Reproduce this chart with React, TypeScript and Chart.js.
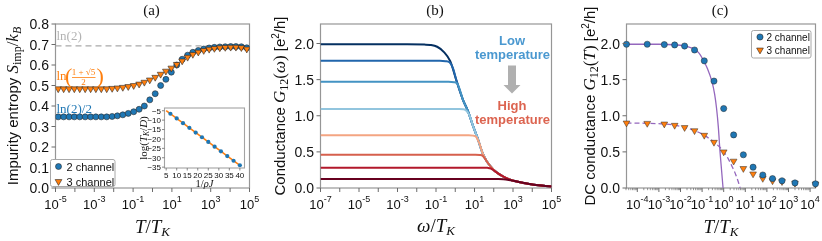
import { useEffect, useRef } from 'react';
import { Chart, registerables } from 'chart.js';

Chart.register(...registerables);

const W = 822;
const H = 241;
const SANS = '"Liberation Sans", Arial, Helvetica, sans-serif';
const SERIF = '"Liberation Serif", "Times New Roman", serif';
const BLUE = '#1f77b4';
const ORANGE = '#ff7f0e';
const PURPLE = '#9467bd';
const FRAME = '#969696';
const TICK = '#6b6b6b';
const INK = '#111111';

// ---------------- (a) impurity entropy ----------------
const entropyLogT = [-4.86, -4.58, -4.3, -4.03, -3.75, -3.47, -3.19, -2.92, -2.64, -2.36, -2.08, -1.81, -1.53, -1.25, -0.97, -0.69, -0.42, -0.14, 0.14, 0.42, 0.69, 0.97, 1.25, 1.53, 1.81, 2.08, 2.36, 2.64, 2.92, 3.19, 3.47, 3.75, 4.03, 4.3, 4.58, 4.86];
const entropyTwoChannel = [0.347, 0.347, 0.347, 0.347, 0.347, 0.347, 0.347, 0.347, 0.347, 0.347, 0.349, 0.352, 0.357, 0.364, 0.372, 0.384, 0.4, 0.43, 0.46, 0.5, 0.53, 0.565, 0.6, 0.628, 0.648, 0.662, 0.671, 0.678, 0.683, 0.686, 0.688, 0.689, 0.69, 0.69, 0.689, 0.684];
const entropyThreeChannel = [0.484, 0.484, 0.484, 0.484, 0.484, 0.484, 0.484, 0.484, 0.484, 0.484, 0.486, 0.488, 0.491, 0.495, 0.5, 0.507, 0.516, 0.527, 0.54, 0.555, 0.57, 0.585, 0.603, 0.62, 0.638, 0.652, 0.663, 0.671, 0.677, 0.681, 0.684, 0.686, 0.687, 0.687, 0.685, 0.678];
const ln2LineLogT = [-5, 5];
const ln2LineValue = [0.693, 0.693];
const entropyYTicks = [0, 0.1, 0.2, 0.3, 0.4, 0.5, 0.6, 0.7, 0.8];
const entropyXDecades = [-5, -4, -3, -2, -1, 0, 1, 2, 3, 4, 5];
const entropyXLabelExps = [-5, -3, -1, 1, 3, 5];

// ---------------- inset ----------------
const insetInvRhoJ = [7, 10, 13, 16, 19, 22, 25, 28, 31, 34, 37, 40];
const insetLogTK = [-6.6, -9.1, -11.6, -14.1, -16.6, -19.1, -21.6, -24.1, -26.6, -29.1, -31.6, -34.0];
const insetFitInvRhoJ = [5, 40];
const insetFitLogTK = [-5, -34];
const insetXTicks = [5, 10, 15, 20, 25, 30, 35, 40];
const insetYTicks = [-5, -10, -15, -20, -25, -30, -35];

// ---------------- (b) G12(omega) ----------------
const omegaExp1 = [-7, -2.5, -1.6, -1.3, -0.94, -0.6, -0.26, 0.07, 0.4, 0.66, 0.91, 1.16, 1.41, 1.66, 2.0, 2.41, 2.75, 3.08, 4.08, 5];
const gOmega1 = [1.99, 1.99, 1.985, 1.98, 1.955, 1.885, 1.755, 1.48, 1.22, 1.065, 0.87, 0.69, 0.49, 0.36, 0.25, 0.17, 0.125, 0.098, 0.045, 0.022];
const omegaExp2 = [-7, -0.8, -0.5, -0.3, -0.12, 0.07, 0.4, 0.66, 0.91, 1.16, 1.41, 1.66, 2.0, 2.41, 2.75, 3.08, 4.08, 5];
const gOmega2 = [1.76, 1.76, 1.755, 1.74, 1.66, 1.48, 1.22, 1.065, 0.87, 0.69, 0.49, 0.36, 0.25, 0.17, 0.125, 0.098, 0.045, 0.022];
const omegaExp3 = [-7, -0.35, -0.05, 0.12, 0.25, 0.4, 0.66, 0.91, 1.16, 1.41, 1.66, 2.0, 2.41, 2.75, 3.08, 4.08, 5];
const gOmega3 = [1.47, 1.47, 1.465, 1.44, 1.35, 1.22, 1.065, 0.87, 0.69, 0.49, 0.36, 0.25, 0.17, 0.125, 0.098, 0.045, 0.022];
const omegaExp4 = [-7, 0.2, 0.42, 0.58, 0.75, 0.91, 1.16, 1.41, 1.66, 2.0, 2.41, 2.75, 3.08, 4.08, 5];
const gOmega4 = [1.095, 1.095, 1.09, 1.07, 1.0, 0.87, 0.69, 0.49, 0.36, 0.25, 0.17, 0.125, 0.098, 0.045, 0.022];
const omegaExp5 = [-7, 0.7, 0.93, 1.08, 1.25, 1.41, 1.66, 2.0, 2.41, 2.75, 3.08, 4.08, 5];
const gOmega5 = [0.73, 0.73, 0.725, 0.71, 0.62, 0.49, 0.36, 0.25, 0.17, 0.125, 0.098, 0.045, 0.022];
const omegaExp6 = [-7, 1.05, 1.28, 1.43, 1.56, 1.66, 2.0, 2.41, 2.75, 3.08, 4.08, 5];
const gOmega6 = [0.46, 0.46, 0.457, 0.445, 0.4, 0.36, 0.25, 0.17, 0.125, 0.098, 0.045, 0.022];
const omegaExp7 = [-7, 1.45, 1.68, 1.85, 2.0, 2.41, 2.75, 3.08, 4.08, 5];
const gOmega7 = [0.282, 0.282, 0.279, 0.27, 0.245, 0.17, 0.125, 0.098, 0.045, 0.022];
const omegaExp8 = [-7, 2.25, 2.5, 2.78, 3.08, 4.08, 5];
const gOmega8 = [0.125, 0.125, 0.122, 0.112, 0.096, 0.045, 0.022];
const curveColors = ['#053061', '#2166ac', '#4393c3', '#92c5de', '#f4a582', '#d6604d', '#b2182b', '#67001f'];
const condYTicks = [0, 0.5, 1, 1.5, 2];
const omegaDecades = [-7, -6, -5, -4, -3, -2, -1, 0, 1, 2, 3, 4, 5];
const omegaLabelExps = [-7, -5, -3, -1, 1, 3, 5];

// ---------------- (c) DC conductance ----------------
const dcLogT = [-4.5, -3.54, -2.75, -2.27, -1.81, -1.35, -0.9, -0.45, 0.0, 0.46, 0.91, 1.36, 1.81, 2.26, 2.7, 3.3, 4.25];
const dcTwoChannel = [1.99, 1.99, 1.985, 1.98, 1.965, 1.91, 1.76, 1.48, 1.1, 0.735, 0.46, 0.288, 0.18, 0.13, 0.1, 0.07, 0.058];
const dcThreeChannel = [0.9, 0.895, 0.886, 0.868, 0.837, 0.793, 0.73, 0.633, 0.5, 0.372, 0.27, 0.195, 0.133, 0.1, 0.089, 0.066, 0.055];
const fitTwoLogT = [-4.5, -3.0, -2.3, -1.8, -1.5, -1.3, -1.1, -0.93, -0.75, -0.55, -0.42, -0.33, -0.25, -0.17, -0.1, -0.03];
const fitTwoG = [1.99, 1.99, 1.983, 1.965, 1.94, 1.91, 1.85, 1.76, 1.65, 1.48, 1.3, 1.1, 0.85, 0.5, 0.25, 0.0];
const fitThreeLogT = [-4.5, -3.5, -2.75, -2.27, -1.81, -1.35, -0.9, -0.45, -0.2, 0.0, 0.2, 0.4, 0.55, 0.67, 0.76];
const fitThreeG = [0.9, 0.895, 0.886, 0.87, 0.84, 0.795, 0.73, 0.635, 0.57, 0.5, 0.41, 0.29, 0.19, 0.09, 0.0];
const dcDecades = [-4, -3, -2, -1, 0, 1, 2, 3, 4];

// ---------------- layout ----------------
type Area = { left: number; top: number; right: number; bottom: number };
const AREA_A: Area = { left: 47.5, top: 24, right: 249.5, bottom: 196 };
const AREA_INSET: Area = { left: 156.5, top: 108, right: 244.5, bottom: 176 };
const AREA_B: Area = { left: 312.5, top: 24, right: 551.5, bottom: 196 };
const AREA_C: Area = { left: 618.5, top: 24, right: 815.5, bottom: 196 };

type Seg = { t: string; f: string; dy?: number };

function segsWidth(ctx: CanvasRenderingContext2D, segs: Seg[]) {
  let w = 0;
  for (const s of segs) {
    ctx.font = s.f;
    w += ctx.measureText(s.t).width;
  }
  return w;
}

function drawSegs(ctx: CanvasRenderingContext2D, segs: Seg[], x: number, y: number, align: string, color: string, rot = 0) {
  ctx.save();
  ctx.translate(x, y);
  if (rot) ctx.rotate(rot);
  ctx.fillStyle = color;
  ctx.textAlign = 'left';
  ctx.textBaseline = 'alphabetic';
  const w = segsWidth(ctx, segs);
  let cx = align === 'center' ? -w / 2 : align === 'right' ? -w : 0;
  for (const s of segs) {
    ctx.font = s.f;
    ctx.fillText(s.t, cx, s.dy || 0);
    cx += ctx.measureText(s.t).width;
  }
  ctx.restore();
}

function pow10Segs(e: number, base = 13, exp = 9): Seg[] {
  const s = e < 0 ? '-' + Math.abs(e) : String(e);
  return [
    { t: '10', f: `${base}px ${SANS}` },
    { t: s, f: `${exp}px ${SANS}`, dy: -7 },
  ];
}

function xTitleSegs(first: string): Seg[] {
  return [
    { t: first, f: `italic 19px ${SERIF}` },
    { t: '/', f: `19px ${SERIF}` },
    { t: 'T', f: `italic 19px ${SERIF}` },
    { t: 'K', f: `italic 13px ${SERIF}`, dy: 3.5 },
  ];
}

function drawFrame(ctx: CanvasRenderingContext2D, a: Area, color: string, lw: number) {
  ctx.save();
  ctx.strokeStyle = color;
  ctx.lineWidth = lw;
  ctx.strokeRect(a.left, a.top, a.right - a.left, a.bottom - a.top);
  ctx.restore();
}

function xTickMarks(ctx: CanvasRenderingContext2D, c: any, vals: number[], len: number) {
  const a = c.chartArea;
  const s = c.scales.x;
  ctx.beginPath();
  for (const v of vals) {
    const px = s.getPixelForValue(v);
    if (px < a.left - 0.5 || px > a.right + 0.5) continue;
    ctx.moveTo(px, a.bottom);
    ctx.lineTo(px, a.bottom + len);
  }
  ctx.stroke();
}

function yTickMarks(ctx: CanvasRenderingContext2D, c: any, vals: number[], len: number) {
  const a = c.chartArea;
  const s = c.scales.y;
  ctx.beginPath();
  for (const v of vals) {
    const py = s.getPixelForValue(v);
    ctx.moveTo(a.left - len, py);
    ctx.lineTo(a.left, py);
  }
  ctx.stroke();
}

function marker(ctx: CanvasRenderingContext2D, kind: string, x: number, y: number, r: number, fill: string) {
  ctx.save();
  ctx.fillStyle = fill;
  ctx.strokeStyle = '#2a2a2a';
  ctx.lineWidth = 0.6;
  ctx.beginPath();
  if (kind === 'circle') {
    ctx.arc(x, y, r, 0, Math.PI * 2);
  } else {
    const h = r * Math.sin(Math.PI / 3);
    ctx.moveTo(x, y + r);
    ctx.lineTo(x - h, y - r / 2);
    ctx.lineTo(x + h, y - r / 2);
    ctx.closePath();
  }
  ctx.fill();
  ctx.stroke();
  ctx.restore();
}

function legendBox(ctx: CanvasRenderingContext2D, x: number, y: number, w: number, h: number) {
  ctx.save();
  ctx.fillStyle = '#ffffff';
  ctx.strokeStyle = '#a8a8a8';
  ctx.lineWidth = 1;
  ctx.beginPath();
  (ctx as any).roundRect ? (ctx as any).roundRect(x, y, w, h, 2) : ctx.rect(x, y, w, h);
  ctx.fill();
  ctx.stroke();
  ctx.restore();
}

const logPts = (xs: number[], ys: number[]) => xs.map((x, i) => ({ x: Math.pow(10, x), y: ys[i] }));
const linPts = (xs: number[], ys: number[]) => xs.map((x, i) => ({ x, y: ys[i] }));

function makeChart(canvas: HTMLCanvasElement, area: Area, x: any, y: any, datasets: any[], before: (c: any) => void, after: (c: any) => void) {
  const hidden = { grid: { display: false }, border: { display: false }, ticks: { display: false }, title: { display: false } };
  return new Chart(canvas, {
    type: 'scatter',
    data: { datasets },
    options: {
      responsive: false,
      animation: false,
      devicePixelRatio: 1,
      events: [],
      layout: { padding: { left: area.left, top: area.top, right: W - area.right, bottom: H - area.bottom } },
      plugins: { legend: { display: false }, tooltip: { enabled: false }, title: { display: false } },
      scales: {
        x: { ...x, ...hidden },
        y: { ...y, ...hidden },
      },
    } as any,
    plugins: [
      {
        id: 'decor',
        beforeDatasetsDraw: (c: any) => before(c),
        afterDraw: (c: any) => after(c),
      },
    ],
  });
}

function yTitle(ctx: CanvasRenderingContext2D, segs: Seg[], cx: number, cy: number, fs: number) {
  drawSegs(ctx, segs, cx + fs * 0.36, cy, 'center', INK, -Math.PI / 2);
}

function buildA(canvas: HTMLCanvasElement) {
  const datasets = [
    {
      data: logPts(entropyLogT, entropyThreeChannel),
      pointStyle: 'triangle', rotation: 180, pointRadius: 3.9,
      pointBackgroundColor: ORANGE, pointBorderColor: '#2a2a2a', pointBorderWidth: 0.6, showLine: false,
    },
    {
      data: logPts(entropyLogT, entropyTwoChannel),
      pointStyle: 'circle', pointRadius: 3.0,
      pointBackgroundColor: BLUE, pointBorderColor: '#2a2a2a', pointBorderWidth: 0.6, showLine: false,
    },
    {
      data: logPts(ln2LineLogT, ln2LineValue),
      showLine: true, pointRadius: 0, borderColor: '#a9a9a9', borderWidth: 1.3, borderDash: [6, 4],
    },
  ];
  return makeChart(
    canvas, AREA_A,
    { type: 'logarithmic', min: 1e-5, max: 1e5 },
    { type: 'linear', min: 0, max: 0.8 },
    datasets,
    (c) => drawFrame(c.ctx, c.chartArea, FRAME, 1.2),
    (c) => {
      const ctx = c.ctx;
      const a = c.chartArea;
      const sx = c.scales.x;
      const sy = c.scales.y;
      ctx.save();
      ctx.strokeStyle = TICK;
      ctx.lineWidth = 1;
      xTickMarks(ctx, c, entropyXDecades.map((e) => Math.pow(10, e)), 4);
      yTickMarks(ctx, c, entropyYTicks, 4);
      for (const v of entropyYTicks) {
        drawSegs(ctx, [{ t: v.toFixed(1), f: `14px ${SANS}` }], a.left - 6.5, sy.getPixelForValue(v) + 5, 'right', INK);
      }
      for (const e of entropyXLabelExps) {
        drawSegs(ctx, pow10Segs(e), sx.getPixelForValue(Math.pow(10, e)), a.bottom + 21, 'center', INK);
      }
      const mid = (a.left + a.right) / 2;
      drawSegs(ctx, [{ t: '(a)', f: `15px ${SERIF}` }], mid - 1, 15, 'center', INK);
      drawSegs(ctx, xTitleSegs('T'), mid, 232.5, 'center', INK);
      yTitle(ctx, [
        { t: 'Impurity entropy ', f: `15px ${SANS}` },
        { t: 'S', f: `italic 17px ${SERIF}` },
        { t: 'imp', f: `12px ${SERIF}`, dy: 3 },
        { t: '/', f: `17px ${SERIF}` },
        { t: 'k', f: `italic 17px ${SERIF}` },
        { t: 'B', f: `italic 12px ${SERIF}`, dy: 3 },
      ], 13, (a.top + a.bottom) / 2, 15);
      // annotations
      drawSegs(ctx, [{ t: 'ln(2)', f: `13px ${SERIF}` }], 56.5, 39.5, 'left', '#b3b3b3');
      drawSegs(ctx, [{ t: 'ln', f: `13px ${SERIF}` }], 56.5, 80, 'left', ORANGE);
      drawSegs(ctx, [{ t: '(', f: `22px ${SERIF}` }], 65, 83, 'left', ORANGE);
      drawSegs(ctx, [{ t: '1 + \u221A5', f: `9px ${SERIF}` }], 83.5, 75, 'center', ORANGE);
      ctx.strokeStyle = ORANGE;
      ctx.lineWidth = 0.8;
      ctx.beginPath();
      ctx.moveTo(72, 77.5);
      ctx.lineTo(95.5, 77.5);
      ctx.stroke();
      drawSegs(ctx, [{ t: '2', f: `9px ${SERIF}` }], 83.5, 85, 'center', ORANGE);
      drawSegs(ctx, [{ t: ')', f: `22px ${SERIF}` }], 96.5, 83, 'left', ORANGE);
      drawSegs(ctx, [{ t: 'ln(2)/2', f: `13px ${SERIF}` }], 56.5, 113, 'left', BLUE);
      // legend
      legendBox(ctx, 50.5, 159.5, 64.5, 27);
      marker(ctx, 'circle', 58.5, 166.5, 3.0, BLUE);
      marker(ctx, 'tri', 58.5, 181.5, 3.9, ORANGE);
      drawSegs(ctx, [{ t: '2 channel', f: `11px ${SANS}` }], 66.5, 170.5, 'left', INK);
      drawSegs(ctx, [{ t: '3 channel', f: `11px ${SANS}` }], 66.5, 185.5, 'left', INK);
      ctx.restore();
    },
  );
}

function buildInset(canvas: HTMLCanvasElement) {
  const datasets = [
    {
      data: linPts(insetInvRhoJ, insetLogTK),
      pointStyle: 'circle', pointRadius: 2.1, pointBackgroundColor: BLUE, pointBorderColor: BLUE, pointBorderWidth: 0, showLine: false,
    },
    {
      data: linPts(insetFitInvRhoJ, insetFitLogTK),
      showLine: true, pointRadius: 0, borderColor: ORANGE, borderWidth: 1.6,
    },
  ];
  return makeChart(
    canvas, AREA_INSET,
    { type: 'linear', min: 4.2, max: 42.2 },
    { type: 'linear', min: -35.45, max: -3.55 },
    datasets,
    (c) => {
      const a = c.chartArea;
      c.ctx.save();
      c.ctx.fillStyle = '#ffffff';
      c.ctx.fillRect(a.left, a.top, a.right - a.left, a.bottom - a.top);
      c.ctx.restore();
      drawFrame(c.ctx, a, '#a3a3a3', 1.1);
    },
    (c) => {
      const ctx = c.ctx;
      const a = c.chartArea;
      const sx = c.scales.x;
      const sy = c.scales.y;
      ctx.save();
      ctx.strokeStyle = TICK;
      ctx.lineWidth = 0.8;
      xTickMarks(ctx, c, insetXTicks, 2.5);
      yTickMarks(ctx, c, insetYTicks, 2.5);
      for (const v of insetXTicks) {
        drawSegs(ctx, [{ t: String(v), f: `8px ${SANS}` }], sx.getPixelForValue(v), a.bottom + 10, 'center', INK);
      }
      for (const v of insetYTicks) {
        drawSegs(ctx, [{ t: '\u2212' + Math.abs(v), f: `8px ${SANS}` }], a.left - 3.5, sy.getPixelForValue(v) + 2.9, 'right', INK);
      }
      drawSegs(ctx, [
        { t: '1/', f: `10.5px ${SERIF}` },
        { t: '\u03C1J', f: `italic 10.5px ${SERIF}` },
      ], (a.left + a.right) / 2, a.bottom + 19, 'center', INK);
      yTitle(ctx, [
        { t: 'log(', f: `11px ${SERIF}` },
        { t: 'T', f: `italic 11px ${SERIF}` },
        { t: 'K', f: `italic 7.5px ${SERIF}`, dy: 2 },
        { t: '/', f: `11px ${SERIF}` },
        { t: 'D', f: `italic 11px ${SERIF}` },
        { t: ')', f: `11px ${SERIF}` },
      ], a.left - 21, (a.top + a.bottom) / 2, 11);
      ctx.restore();
    },
  );
}

function buildB(canvas: HTMLCanvasElement) {
  const xs = [omegaExp1, omegaExp2, omegaExp3, omegaExp4, omegaExp5, omegaExp6, omegaExp7, omegaExp8];
  const ys = [gOmega1, gOmega2, gOmega3, gOmega4, gOmega5, gOmega6, gOmega7, gOmega8];
  const datasets = xs.map((xv, i) => ({
    data: logPts(xv, ys[i]),
    showLine: true, pointRadius: 0, borderColor: curveColors[i], borderWidth: 2,
    cubicInterpolationMode: 'monotone', order: 8 - i,
  }));
  return makeChart(
    canvas, AREA_B,
    { type: 'logarithmic', min: 1e-7, max: 1e5 },
    { type: 'linear', min: 0, max: 2.27 },
    datasets,
    (c) => drawFrame(c.ctx, c.chartArea, FRAME, 1.2),
    (c) => {
      const ctx = c.ctx;
      const a = c.chartArea;
      const sx = c.scales.x;
      const sy = c.scales.y;
      ctx.save();
      ctx.strokeStyle = TICK;
      ctx.lineWidth = 1;
      xTickMarks(ctx, c, omegaDecades.map((e) => Math.pow(10, e)), 4);
      yTickMarks(ctx, c, condYTicks, 4);
      for (const v of condYTicks) {
        drawSegs(ctx, [{ t: v.toFixed(1), f: `14px ${SANS}` }], a.left - 6.5, sy.getPixelForValue(v) + 5, 'right', INK);
      }
      for (const e of omegaLabelExps) {
        drawSegs(ctx, pow10Segs(e), sx.getPixelForValue(Math.pow(10, e)), a.bottom + 21, 'center', INK);
      }
      const mid = (a.left + a.right) / 2;
      drawSegs(ctx, [{ t: '(b)', f: `15px ${SERIF}` }], mid - 1, 15, 'center', INK);
      drawSegs(ctx, xTitleSegs('\u03C9'), mid, 231.5, 'center', INK);
      yTitle(ctx, [
        { t: 'Conductance ', f: `15px ${SANS}` },
        { t: 'G', f: `italic 17px ${SERIF}` },
        { t: '12', f: `12px ${SERIF}`, dy: 3 },
        { t: '(', f: `17px ${SERIF}` },
        { t: '\u03C9', f: `italic 17px ${SERIF}` },
        { t: ')', f: `17px ${SERIF}` },
        { t: ' [e', f: `15px ${SANS}` },
        { t: '2', f: `10px ${SANS}`, dy: -6 },
        { t: '/h]', f: `15px ${SANS}` },
      ], 280, (a.top + a.bottom) / 2, 15);
      // annotations
      const lowC = '#4a98d0';
      const highC = '#dc6450';
      drawSegs(ctx, [{ t: 'Low', f: `bold 13px ${SANS}` }], 512, 45, 'center', lowC);
      drawSegs(ctx, [{ t: 'temperature', f: `bold 13px ${SANS}` }], 512.5, 59, 'center', lowC);
      drawSegs(ctx, [{ t: 'High', f: `bold 13px ${SANS}` }], 512, 110, 'center', highC);
      drawSegs(ctx, [{ t: 'temperature', f: `bold 13px ${SANS}` }], 512.5, 124, 'center', highC);
      ctx.fillStyle = '#b0b0b0';
      ctx.fillRect(508, 65.5, 8, 20);
      ctx.beginPath();
      ctx.moveTo(503.5, 85);
      ctx.lineTo(520.5, 85);
      ctx.lineTo(512, 93.5);
      ctx.closePath();
      ctx.fill();
      ctx.restore();
    },
  );
}

function buildC(canvas: HTMLCanvasElement) {
  const datasets = [
    {
      data: logPts(dcLogT, dcTwoChannel),
      pointStyle: 'circle', pointRadius: 3.1, pointBackgroundColor: BLUE, pointBorderColor: '#2a2a2a', pointBorderWidth: 0.5,
      showLine: false, clip: false,
    },
    {
      data: logPts(dcLogT, dcThreeChannel),
      pointStyle: 'triangle', rotation: 180, pointRadius: 3.9, pointBackgroundColor: ORANGE, pointBorderColor: '#2a2a2a', pointBorderWidth: 0.5,
      showLine: false, clip: false,
    },
    {
      data: logPts(fitTwoLogT, fitTwoG),
      showLine: true, pointRadius: 0, borderColor: PURPLE, borderWidth: 1.3, cubicInterpolationMode: 'monotone',
    },
    {
      data: logPts(fitThreeLogT, fitThreeG),
      showLine: true, pointRadius: 0, borderColor: PURPLE, borderWidth: 1.3, borderDash: [5, 3], cubicInterpolationMode: 'monotone',
    },
  ];
  return makeChart(
    canvas, AREA_C,
    { type: 'logarithmic', min: Math.pow(10, -4.5), max: Math.pow(10, 4.25) },
    { type: 'linear', min: 0, max: 2.27 },
    datasets,
    (c) => drawFrame(c.ctx, c.chartArea, FRAME, 1.2),
    (c) => {
      const ctx = c.ctx;
      const a = c.chartArea;
      const sx = c.scales.x;
      const sy = c.scales.y;
      ctx.save();
      ctx.strokeStyle = TICK;
      ctx.lineWidth = 1;
      const minor: number[] = [];
      for (let d = -5; d <= 4; d++) for (let k = 2; k <= 9; k++) minor.push(k * Math.pow(10, d));
      xTickMarks(ctx, c, dcDecades.map((e) => Math.pow(10, e)), 4);
      ctx.lineWidth = 0.7;
      xTickMarks(ctx, c, minor, 2.2);
      ctx.lineWidth = 1;
      yTickMarks(ctx, c, condYTicks, 4);
      for (const v of condYTicks) {
        drawSegs(ctx, [{ t: v.toFixed(1), f: `14px ${SANS}` }], a.left - 6.5, sy.getPixelForValue(v) + 5, 'right', INK);
      }
      for (const e of dcDecades) {
        drawSegs(ctx, pow10Segs(e), sx.getPixelForValue(Math.pow(10, e)), a.bottom + 21, 'center', INK);
      }
      const mid = (a.left + a.right) / 2;
      drawSegs(ctx, [{ t: '(c)', f: `15px ${SERIF}` }], mid - 1, 15, 'center', INK);
      drawSegs(ctx, xTitleSegs('T'), mid, 232.5, 'center', INK);
      yTitle(ctx, [
        { t: 'DC conductance ', f: `15px ${SANS}` },
        { t: 'G', f: `italic 17px ${SERIF}` },
        { t: '12', f: `12px ${SERIF}`, dy: 3 },
        { t: '(', f: `17px ${SERIF}` },
        { t: 'T', f: `italic 17px ${SERIF}` },
        { t: ')', f: `17px ${SERIF}` },
        { t: ' [e', f: `15px ${SANS}` },
        { t: '2', f: `10px ${SANS}`, dy: -6 },
        { t: '/h]', f: `15px ${SANS}` },
      ], 590, (a.top + a.bottom) / 2, 15);
      legendBox(ctx, 751.5, 30.5, 59.5, 27.5);
      marker(ctx, 'circle', 760, 37, 3.1, BLUE);
      marker(ctx, 'tri', 760, 50, 3.9, ORANGE);
      drawSegs(ctx, [{ t: '2 channel', f: `10px ${SANS}` }], 766.5, 40.5, 'left', INK);
      drawSegs(ctx, [{ t: '3 channel', f: `10px ${SANS}` }], 766.5, 53.5, 'left', INK);
      ctx.restore();
    },
  );
}

export default function App() {
  const refA = useRef<HTMLCanvasElement>(null);
  const refInset = useRef<HTMLCanvasElement>(null);
  const refB = useRef<HTMLCanvasElement>(null);
  const refC = useRef<HTMLCanvasElement>(null);

  useEffect(() => {
    const charts = [
      buildA(refA.current as HTMLCanvasElement),
      buildInset(refInset.current as HTMLCanvasElement),
      buildB(refB.current as HTMLCanvasElement),
      buildC(refC.current as HTMLCanvasElement),
    ];
    return () => charts.forEach((ch) => ch.destroy());
  }, []);

  const cs: any = { position: 'absolute', left: 0, top: 0, width: W, height: H };
  return (
    <div style={{ position: 'absolute', left: 0, top: 0, width: W, height: H, background: '#ffffff', overflow: 'hidden' }}>
      <canvas ref={refA} width={W} height={H} style={cs} />
      <canvas ref={refInset} width={W} height={H} style={cs} />
      <canvas ref={refB} width={W} height={H} style={cs} />
      <canvas ref={refC} width={W} height={H} style={cs} />
    </div>
  );
}
